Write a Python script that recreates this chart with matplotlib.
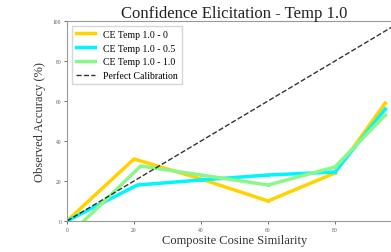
import matplotlib
matplotlib.use('Agg')
import matplotlib.pyplot as plt
import numpy as np

plt.rcParams['font.family'] = ['Liberation Serif', 'DejaVu Serif']

x0 = [0, 20, 40, 60, 80, 95]
y0 = [0, 31, 21, 10, 24, 59]
x05 = [0, 21, 40, 60, 80, 95]
y05 = [0, 18, 20.5, 23, 24.5, 56]
x10 = [5, 22, 40, 60, 80, 95]
y10 = [0, 27.5, 23, 18, 27, 53]
labels = ['CE Temp 1.0 - 0', 'CE Temp 1.0 - 0.5', 'CE Temp 1.0 - 1.0']
colors = ['#FFD200', '#00F5FF', '#8CF58C']

fig = plt.figure(figsize=(3.91, 2.53), dpi=100)
ax = fig.add_axes([67/391, 1-222/253, 335/391, 200/253])

ax.plot(x0, y0, color=colors[0], lw=2.5, marker='o', ms=1.5, label=labels[0])
ax.plot(x05, y05, color=colors[1], lw=2.5, marker='o', ms=1.5, label=labels[1])
ax.plot(x10, y10, color=colors[2], lw=2.5, marker='o', ms=1.5, label=labels[2])
ax.plot([0, 100], [0, 100], color='black', ls='--', lw=1, alpha=0.8, label='Perfect Calibration')

ax.set_xlim(0, 100)
ax.set_ylim(0, 100)
ax.set_xticks([0, 20, 40, 60, 80])
ax.set_yticks([0, 20, 40, 60, 80, 100])
ax.tick_params(labelsize=4, length=2, width=0.6, colors='#555555', pad=2)
for s in ax.spines.values():
    s.set_color('#999999')
    s.set_linewidth(0.8)

ax.set_title('Confidence Elicitation - Temp 1.0', fontsize=12, pad=3, color='#222222')
ax.set_xlabel('Composite Cosine Similarity', fontsize=9, labelpad=2, color='#333333')
ax.set_ylabel('Observed Accuracy (%)', fontsize=9, labelpad=5, color='#333333')
ax.legend(loc='upper left', fontsize=7, frameon=True, edgecolor='#cccccc', fancybox=False)

fig.savefig('out.png', dpi=100)
